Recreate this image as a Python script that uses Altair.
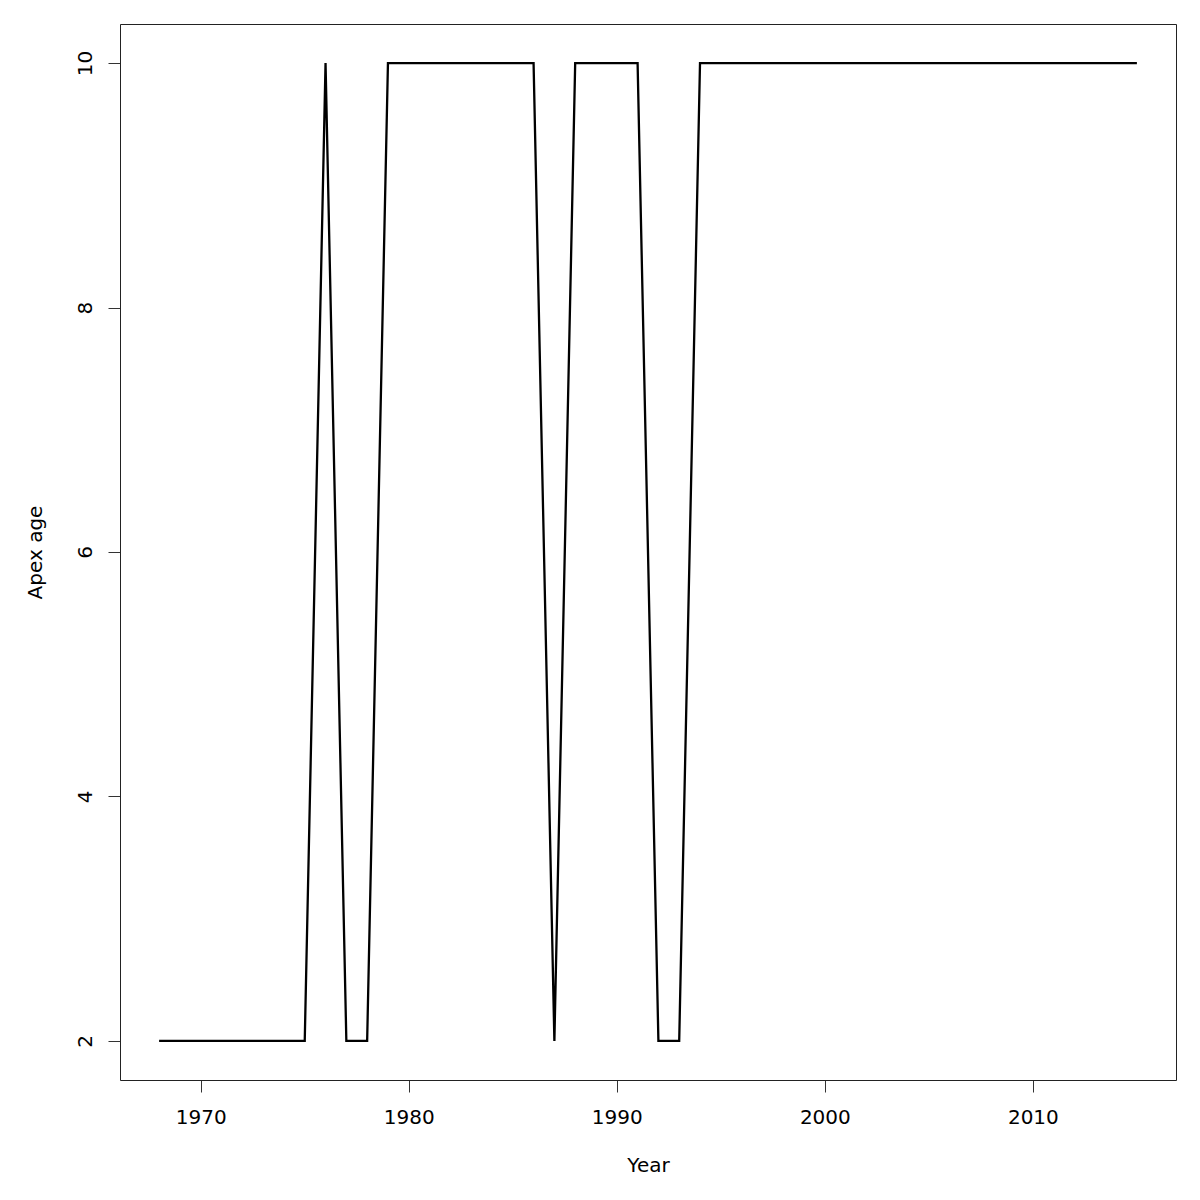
import altair as alt
import pandas as pd

years = list(range(1968, 2016))
apex_age = ([2] * 8 + [10] + [2, 2] + [10] * 8 + [2] + [10] * 4 + [2, 2] + [10] * 22)
x_ticks = [1970, 1980, 1990, 2000, 2010]
y_ticks = [2, 4, 6, 8, 10]

df = pd.DataFrame({"Year": years, "Apex age": apex_age})

FONT = "DejaVu Sans"
AXIS_COLOR = "#333333"

line = alt.Chart(df).mark_line(color="black", strokeWidth=2.3).encode(
    x=alt.X(
        "Year:Q",
        scale=alt.Scale(domain=[1966.12, 2016.88], nice=False, zero=False),
        axis=alt.Axis(
            values=x_ticks, format="d", grid=False, domain=False,
            tickSize=12, tickColor=AXIS_COLOR, tickWidth=1,
            labelFont=FONT, labelFontSize=20, labelColor="black",
            labelPadding=15, labelBaseline="top",
            title="Year", titleFont=FONT, titleFontSize=20, titleFontWeight="normal",
            titleColor="black", titleX=528, titleY=91, titleBaseline="alphabetic",
            titleAlign="center",
        ),
    ),
    y=alt.Y(
        "Apex age:Q",
        scale=alt.Scale(domain=[1.68, 10.32], nice=False, zero=False),
        axis=alt.Axis(
            values=y_ticks, format="d", grid=False, domain=False,
            tickSize=12, tickColor=AXIS_COLOR, tickWidth=1,
            labelFont=FONT, labelFontSize=20, labelColor="black",
            labelAngle=-90, labelAlign="center", labelBaseline="alphabetic",
            labelPadding=17,
            title="Apex age", titleFont=FONT, titleFontSize=20, titleFontWeight="normal",
            titleColor="black", titleAngle=-90, titleX=-79, titleY=528,
            titleBaseline="alphabetic", titleAlign="center",
        ),
    ),
)

box = alt.Chart(pd.DataFrame({"a": [0]})).mark_rect(
    fill="transparent", stroke="#222222", strokeWidth=1
).encode(
    x=alt.value(0.5), x2=alt.value(1056.5), y=alt.value(0.5), y2=alt.value(1056.5)
)

chart = alt.layer(line, box).properties(
    width=1056, height=1056,
    autosize=alt.AutoSizeParams(type="none"),
    padding={"left": 112, "top": 16, "right": 16, "bottom": 100},
).configure_view(
    stroke="transparent", fill="white"
).configure(background="white")

chart.save("out.html", embed_options={"renderer": "svg", "actions": False})
